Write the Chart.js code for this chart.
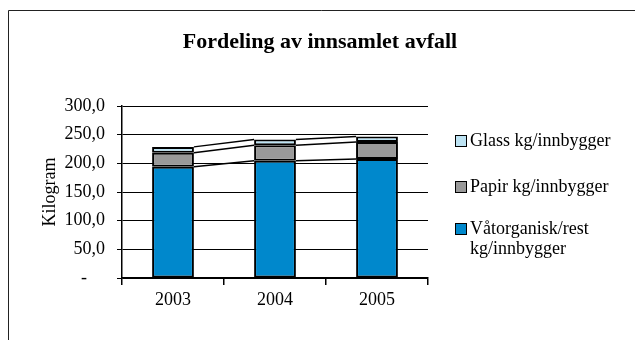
<!DOCTYPE html>
<html>
<head>
<meta charset="utf-8">
<script src="https://cdn.jsdelivr.net/npm/chart.js@4/dist/chart.umd.min.js"></script>
<style>
  html, body { margin: 0; padding: 0; background: #fff; }
  canvas { display: block; }
</style>
</head>
<body>
<canvas id="myChart" width="635" height="340"></canvas>
<script>
const years = ["2003", "2004", "2005"];
const vatorganisk = [194.0, 204.4, 207.4];
const papir = [24.3, 27.3, 30.0];
const glass = [10.4, 9.9, 9.4];
const seriesNames = ["Våtorganisk/rest kg/innbygger", "Papir kg/innbygger", "Glass kg/innbygger"];
const seriesColors = ["#0088CC", "#999999", "#BDE3F3"];
const chartTitle = "Fordeling av innsamlet avfall";

const serif = "'Liberation Serif', 'Times New Roman', serif";

// outer frame (left and top edges) plus the title centred on the whole page
const framePlugin = {
  id: "frame",
  beforeDraw(chart) {
    const ctx = chart.ctx;
    ctx.save();
    ctx.strokeStyle = "#222";
    ctx.lineWidth = 1;
    ctx.beginPath();
    ctx.moveTo(8.5, 340);
    ctx.lineTo(8.5, 10.5);
    ctx.lineTo(635, 10.5);
    ctx.stroke();
    ctx.font = "bold 22px " + serif;
    ctx.fillStyle = "#000";
    ctx.textAlign = "center";
    ctx.textBaseline = "middle";
    ctx.fillText(chartTitle, 320, 42);
    ctx.restore();
  },
};

// series lines between the tops of neighbouring bar segments
const seriesLines = {
  id: "seriesLines",
  afterDatasetsDraw(chart) {
    const ctx = chart.ctx;
    ctx.save();
    ctx.strokeStyle = "#000";
    ctx.lineWidth = 1.5;
    chart.data.datasets.forEach((ds, i) => {
      const bars = chart.getDatasetMeta(i).data;
      for (let j = 0; j < bars.length - 1; j++) {
        const a = bars[j], b = bars[j + 1];
        ctx.beginPath();
        ctx.moveTo(a.x + a.width / 2, a.y);
        ctx.lineTo(b.x - b.width / 2, b.y);
        ctx.stroke();
      }
    });
    ctx.restore();
  },
};

// legend on the right, top series first, long name wraps
const sideLegend = {
  id: "sideLegend",
  afterDraw(chart) {
    const ctx = chart.ctx;
    const rows = [
      { idx: 2, lines: ["Glass kg/innbygger"], y: 141 },
      { idx: 1, lines: ["Papir kg/innbygger"], y: 187 },
      { idx: 0, lines: ["Våtorganisk/rest", "kg/innbygger"], y: 229 },
    ];
    ctx.save();
    ctx.font = "18px " + serif;
    ctx.textBaseline = "middle";
    ctx.textAlign = "left";
    rows.forEach((r) => {
      const ds = chart.data.datasets[r.idx];
      ctx.fillStyle = ds.backgroundColor;
      ctx.fillRect(455, r.y - 6, 11, 11);
      ctx.strokeStyle = "#000";
      ctx.lineWidth = 1;
      ctx.strokeRect(455.5, r.y - 5.5, 11, 11);
      ctx.fillStyle = "#000";
      r.lines.forEach((t, k) => ctx.fillText(t, 470, r.y + k * 20));
    });
    ctx.restore();
  },
};

const ctx = document.getElementById("myChart");
new Chart(ctx, {
  type: "bar",
  data: {
    labels: years,
    datasets: [
      { label: seriesNames[0], data: vatorganisk, backgroundColor: seriesColors[0] },
      { label: seriesNames[1], data: papir, backgroundColor: seriesColors[1] },
      { label: seriesNames[2], data: glass, backgroundColor: seriesColors[2] },
    ].map((d) => ({
      ...d,
      borderColor: "#000",
      borderWidth: 2,
      borderSkipped: false,
      categoryPercentage: 1,
      barPercentage: 0.41,
    })),
  },
  options: {
    responsive: false,
    animation: false,
    layout: { padding: { left: 0, right: 207, top: 106, bottom: 0 } },
    plugins: {
      legend: { display: false },
      tooltip: { enabled: false },
      title: { display: false },
    },
    scales: {
      x: {
        stacked: true,
        border: { color: "#000", width: 1.5 },
        grid: {
          offset: true,
          drawOnChartArea: false,
          drawTicks: true,
          tickLength: 7,
          color: "#000",
          lineWidth: 1.5,
        },
        ticks: { color: "#000", padding: 4, font: { family: serif, size: 18 } },
        afterFit(scale) { scale.height = 62; },
      },
      y: {
        stacked: true,
        min: 0,
        max: 300,
        border: { color: "#000", width: 1.5 },
        grid: { color: "#000", lineWidth: 1, tickLength: 5 },
        ticks: {
          stepSize: 50,
          color: "#000",
          padding: 12,
          font: { family: serif, size: 18 },
          callback: (v) => (v === 0 ? "-    " : v.toFixed(1).replace(".", ",")),
        },
        title: {
          display: true,
          text: "Kilogram",
          color: "#000",
          font: { family: serif, size: 18 },
          padding: { top: 39, bottom: 0 },
        },
        afterFit(scale) { scale.width = 122; },
      },
    },
  },
  plugins: [framePlugin, seriesLines, sideLegend],
});
</script>
</body>
</html>
